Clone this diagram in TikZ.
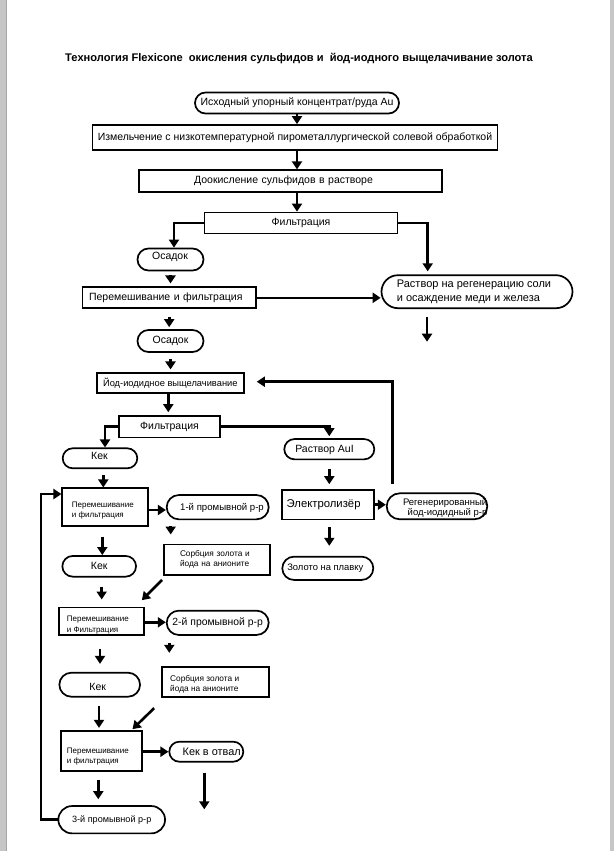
\documentclass[tikz,border=0pt]{standalone}
\usepackage{fontspec}
\setmainfont{Liberation Sans}
\usetikzlibrary{arrows.meta,shapes.misc,calc}
\newcommand{\fsz}[2]{\fontsize{#1}{#2}\selectfont}
\tikzset{
  box/.style={draw, line width=1.7pt, rectangle, inner sep=0pt, font=\fsz{10.5}{12.5}},
  pill/.style={draw, line width=1.7pt, rounded rectangle, inner sep=0pt, font=\fsz{10.5}{12.5}},
  txt/.style={inner sep=0pt, font=\fsz{10.5}{12.5}},
  arr/.style={line width=2.6pt, -{Triangle[length=8pt,width=10pt]}},
}
\begin{document}
\begin{tikzpicture}[x=1pt,y=-1pt]
\fill[white] (0,0) rectangle (614,851);
\useasboundingbox (0,0) rectangle (614,851);
\fill[gray!45] (0,0) rectangle (7,851);
\fill[gray!70] (5.5,0) rectangle (7,851);
\fill[gray!45] (610,0) rectangle (614,851);

\node[txt, font=\bfseries\fsz{11.1}{13}] (title) at (299,58.5) {Технология Flexicone\ \ окисления сульфидов и\ \ йод-иодного выщелачивание золота};

\node[pill, minimum width=204pt, minimum height=21pt] (n1) at (297,103) {Исходный упорный концентрат/руда Au};
\node[box, minimum width=405pt, minimum height=25pt] (n2) at (295,137.5) {Измельчение с низкотемпературной пирометаллургической солевой обработкой};
\node[box, minimum width=303pt, minimum height=21.5pt, inner xsep=55.3pt, text width=192.4pt, align=left] (n3) at (290.3,181) {Доокисление сульфидов в растворе};
\node[box, minimum width=193pt, minimum height=21pt] (f1) at (301,223) {Фильтрация};
\node[pill, minimum width=66pt, minimum height=22pt] (os1) at (170.5,259.5) {};
\node[txt] (os1t) at (170,256.5) {Осадок};
\node[pill, minimum width=191pt, minimum height=33pt] (rs) at (477,291.7) {};
\node[txt, anchor=west, align=left, font=\fsz{11}{13.3}] (rst) at (396.7,291.7) {Раствор на регенерацию соли\\и осаждение меди и железа};
\node[box, minimum width=173.7pt, minimum height=21pt, inner xsep=6.7pt, text width=160.3pt, align=left] (pf1) at (169.2,297.8) {Перемешивание и фильтрация};
\node[pill, minimum width=66pt, minimum height=22pt] (os2) at (170.5,341) {Осадок};
\node[box, minimum width=147.3pt, minimum height=20pt, font=\fsz{9.3}{11}] (yod) at (170.3,383.3) {Йод-иодидное выщелачивание};
\node[box, minimum width=101pt, minimum height=21.3pt] (f2) at (169.5,426.7) {Фильтрация};
\node[pill, minimum width=74.6pt, minimum height=20pt] (kek1) at (100,458.3) {};
\node[txt] (kek1t) at (99.5,455.5) {Кек};
\node[pill, minimum width=90pt, minimum height=20.3pt] (aui) at (329.3,449.2) {};
\node[txt] (auit) at (324.5,449.5) {Раствор AuI};

\node[box, minimum width=85.4pt, minimum height=37.4pt] (pf2) at (105,507) {};
\node[txt, anchor=west, align=left, font=\fsz{8}{10}] (pf2t) at (71.7,511) {Перемешивание\\и фильтрация};
\node[pill, minimum width=102pt, minimum height=24.3pt] (w1) at (217.7,507.2) {};
\node[txt, font=\fsz{9.6}{12}] (w1t) at (222,507.5) {1-й промывной р-р};
\node[box, minimum width=92.6pt, minimum height=29.3pt, inner xsep=5pt, text width=82.6pt, align=left, font=\fsz{11.3}{13}] (el) at (328,504.7) {Электролизёр};
\node[pill, minimum width=100.6pt, minimum height=26pt] (reg) at (437,506.3) {};
\node[txt, anchor=east, align=right, font=\fsz{9.5}{10.6}] (regt) at (487.5,508) {Регенерированный\\йод-иодидный р-р};
\node[box, minimum width=106pt, minimum height=30.7pt, inner xsep=16pt, text width=74pt, align=left, font=\fsz{8.3}{10}] (s1) at (217,559.7) {Сорбция золота и\\йода на анионите};
\node[pill, minimum width=73.7pt, minimum height=20.7pt] (kek2) at (99.2,566.3) {Кек};
\node[pill, minimum width=91pt, minimum height=23.3pt] (gold) at (327.8,568.3) {};
\node[txt, font=\fsz{9.4}{11}] (goldt) at (325.3,568.5) {Золото на плавку};

\node[box, minimum width=85pt, minimum height=27.7pt] (pf3) at (101.8,621.2) {};
\node[txt, anchor=west, align=left, font=\fsz{8}{11.4}] (pf3t) at (66.7,625) {Перемешивание\\и Фильтрация};
\node[pill, minimum width=102pt, minimum height=24.3pt, font=\fsz{10.4}{12}] (w2) at (217.7,622.8) {2-й промывной р-р};
\node[box, minimum width=106.4pt, minimum height=30.6pt] (s2) at (215.5,682) {};
\node[txt, anchor=west, align=left, font=\fsz{8.3}{10}] (s2t) at (170,684.3) {Сорбция золота и\\йода на анионите};
\node[pill, minimum width=80.7pt, minimum height=24pt] (kek3) at (99.7,684.7) {};
\node[txt] (kek3t) at (97.7,686.5) {Кек};

\node[box, minimum width=80.7pt, minimum height=40pt] (pf4) at (101.3,750.7) {};
\node[txt, anchor=west, align=left, font=\fsz{8}{10}] (pf4t) at (66.7,756.7) {Перемешивание\\и фильтрация};
\node[pill, minimum width=74pt, minimum height=20pt] (kv) at (206.3,751.7) {};
\node[txt, font=\fsz{10.9}{12}] (kvt) at (211.7,751.7) {Кек в отвал};
\node[pill, minimum width=106.7pt, minimum height=27.3pt, font=\fsz{9.1}{11}] (w3) at (111.7,819.7) {3-й промывной р-р};

\coordinate (rsout) at (427,341.7);
\coordinate (kvout) at (204.3,809.3);

% connectors
\draw[arr] (n1.south) -- (n1.south |- n2.north);
\draw[arr] (n1.south |- n2.south) -- (n1.south |- n3.north);
\draw[arr] (n1.south |- n3.south) -- (n1.south |- f1.north);
\draw[arr] (f1.west) -| ([xshift=3.5pt]os1.north);
\draw[arr, shorten >=3pt] (f1.east) -| ([xshift=-49.3pt]rs.north);
\draw[arr, shorten <=4pt, shorten >=3pt] (os1.south) -- (os1.south |- pf1.north);
\draw[arr] (pf1.east) -- (pf1.east -| rs.west);
\draw[arr, shorten <=8pt, shorten >=2pt] (pf1.south) -- (pf1.south |- os2.north);
\draw[arr, shorten <=8pt] (rs.south -| rsout) -- (rsout);
\draw[arr, shorten <=6pt, shorten >=3pt] (os2.south) -- (os2.south |- yod.north);
\draw[arr, shorten >=3pt] ([xshift=-2pt]yod.south) -- ([xshift=-2pt]yod.south |- f2.north);
\draw[arr] (f2.west) -| ([xshift=5pt]kek1.north);
\draw[arr, shorten >=2pt] (f2.east) -| (aui.north);
\draw[arr, shorten <=9pt, shorten >=5pt] (aui.south) -- (aui.south |- el.north);
\draw[arr, shorten <=6pt] ([xshift=3.3pt]kek1.south) -- ([xshift=3.3pt]kek1.south |- pf2.north);
\draw[arr] ([yshift=-3pt]pf2.east) -- ([yshift=-3pt]pf2.east -| w1.west);
\draw[arr, shorten <=6pt, shorten >=9pt] ([xshift=-47pt]w1.south) -- ([xshift=-47pt]w1.south |- s1.north);
\draw[arr] ([shift={(-1,4)}]s1.south west) -- ([shift={(-3.3,-6.3)}]pf3.north east);
\draw[arr, shorten <=10pt] ([xshift=-2.7pt]pf2.south) -- ([xshift=-2.7pt]pf2.south |- kek2.north);
\draw[arr, shorten <=9pt, shorten >=7pt] ([xshift=2.5pt]kek2.south) -- ([xshift=2.5pt]kek2.south |- pf3.north);
\draw[arr] (el.east) -- (el.east -| reg.west);
\draw[arr, shorten <=7pt, shorten >=10pt] ([xshift=1.3pt]el.south) -- ([xshift=1.3pt]el.south |- gold.north);
\draw[arr] ([shift={(-44.3,-8.3)}]reg.north) |- ([shift={(12,-1.6)}]yod.east);
\draw[arr] ([yshift=-1.1pt]pf3.east) -- ([yshift=-1.1pt]pf3.east -| w2.west);
\draw[arr, shorten <=7pt, shorten >=13pt] ([xshift=-48.4pt]w2.south) -- ([xshift=-48.4pt]w2.south |- s2.north);
\draw[arr, shorten <=13pt, shorten >=8pt] ([xshift=-1.8pt]pf3.south) -- ([xshift=-1.8pt]pf3.south |- kek3.north);
\draw[arr] ([shift={(-7.3,10)}]s2.south west) -- ([shift={(-10,-0.7)}]pf4.north east);
\draw[arr, shorten <=8pt, shorten >=2pt] ([xshift=-0.7pt]kek3.south) -- ([xshift=-0.7pt]kek3.south |- pf4.north);
\draw[arr] (pf4.east |- kv.west) -- (kv.west);
\draw[arr, shorten <=10pt] (kv.south -| kvout) -- (kvout);
\draw[arr, shorten <=8.3pt, shorten >=6pt] ([xshift=-3pt]pf4.south) -- ([xshift=-3pt]pf4.south |- w3.north);
\draw[arr] ([yshift=0.4pt]w3.west) -- ++(-16.6,0) |- ([yshift=13pt]pf2.west);
\end{tikzpicture}
\end{document}
